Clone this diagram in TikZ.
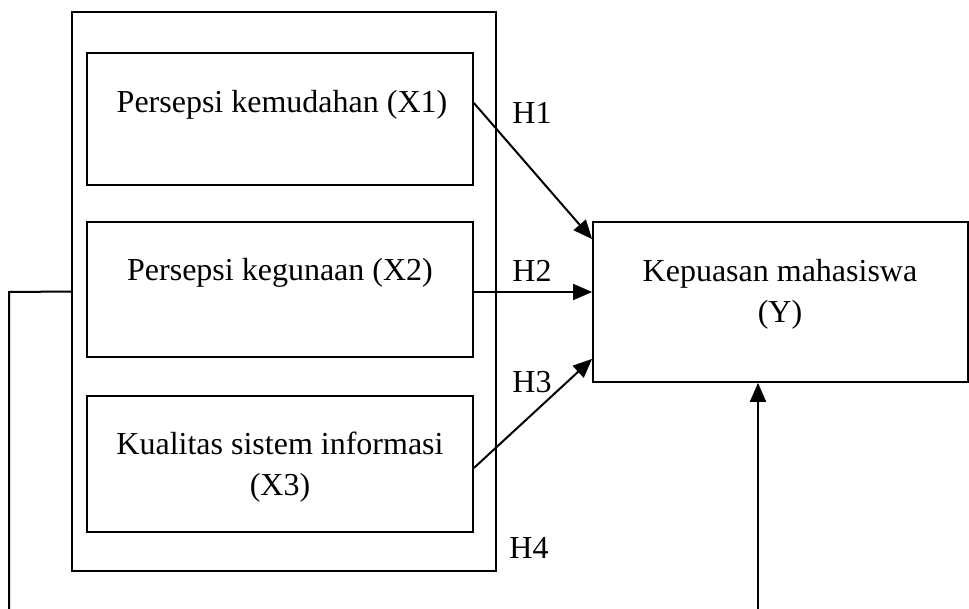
\documentclass[tikz,border=0pt]{standalone}
\usepackage{fontspec}
\setmainfont{Liberation Serif}
\usetikzlibrary{arrows.meta}
\begin{document}
\begin{tikzpicture}[x=1pt,y=-1pt,
  box/.style={draw,line width=1.8pt,inner sep=0pt,minimum width=#1},
  lbl/.style={font=\fontsize{32}{38}\selectfont,inner sep=0pt},
  conn/.style={line width=2pt},
  arr/.style={conn,-{Triangle[length=19pt,width=16pt]}}]
\useasboundingbox (0,0) rectangle (969,608);
\node[box=424pt,minimum height=559pt] (outer) at (284,291.5) {};
\node[box=386pt,minimum height=132pt] (b1) at (280,119) {};
\node[box=386pt,minimum height=135pt] (b2) at (280,289.5) {};
\node[box=386pt,minimum height=136pt] (b3) at (280,464) {};
\node[box=375pt,minimum height=160pt] (y) at (780.5,302) {};
\node[lbl] (t1) at (282,105) {Persepsi kemudahan (X1)};
\node[lbl] (t2) at (280,273) {Persepsi kegunaan (X2)};
\node[lbl,align=center] (t3) at (280,467) {Kualitas sistem informasi\\[3pt](X3)};
\node[lbl,align=center] (ty) at (780,294) {Kepuasan mahasiswa\\[3pt](Y)};
\node[lbl] (h1) at (532,113) {H1};
\node[lbl] (h2) at (532,271) {H2};
\node[lbl] (h3) at (532,382) {H3};
\node[lbl] (h4) at (529,548) {H4};
\coordinate (lc) at (9,292);
\coordinate (lb) at (9,610);
\coordinate (ab) at (758,610);
\draw[arr] ([yshift=16pt]b1.east) -- ([yshift=-18pt]y.north west);
\draw[arr] ([yshift=-2.5pt]b2.east) -- ([yshift=10pt]y.west);
\draw[arr] ([yshift=-4pt]b3.east) -- ([yshift=24pt]y.south west);
\draw[conn] (outer.west) -- (lc) -- (lb);
\draw[arr] (ab) -- (ab |- y.south);
\end{tikzpicture}
\end{document}
